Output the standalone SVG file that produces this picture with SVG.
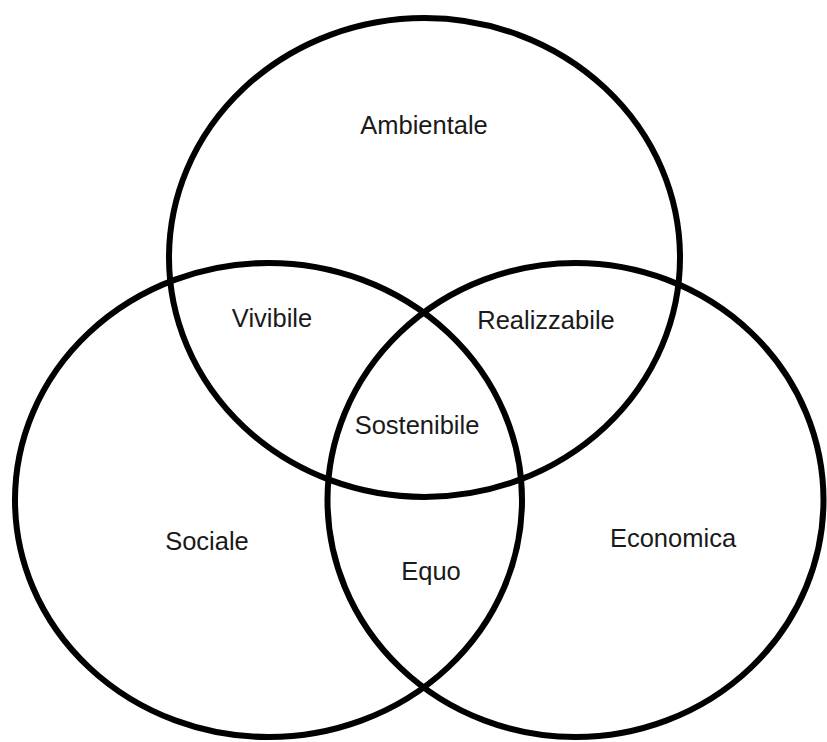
<svg xmlns="http://www.w3.org/2000/svg" width="827" height="742" viewBox="0 0 827 742">
  <style>
    .set { fill: none; stroke: #000; stroke-width: 6; }
    .lbl { font-family: "Liberation Sans", Arial, sans-serif; font-size: 25.5px; fill: #1a1a1a; text-anchor: middle; }
  </style>
  <rect width="827" height="742" fill="#fff"/>
  <g id="ambientale">
    <ellipse class="set" cx="424.5" cy="257.5" rx="255.5" ry="239.5"/>
    <text class="lbl" x="424" y="134">Ambientale</text>
  </g>
  <g id="sociale">
    <ellipse class="set" cx="268.5" cy="500" rx="253.5" ry="237"/>
    <text class="lbl" x="207" y="550">Sociale</text>
  </g>
  <g id="economica">
    <ellipse class="set" cx="575.5" cy="500" rx="248" ry="237"/>
    <text class="lbl" x="673" y="547">Economica</text>
  </g>
  <g id="vivibile">
    <text class="lbl" x="272" y="327">Vivibile</text>
  </g>
  <g id="realizzabile">
    <text class="lbl" x="546" y="329">Realizzabile</text>
  </g>
  <g id="sostenibile">
    <text class="lbl" x="417" y="434">Sostenibile</text>
  </g>
  <g id="equo">
    <text class="lbl" x="431" y="580">Equo</text>
  </g>
  <g id="connectors"/>
</svg>
